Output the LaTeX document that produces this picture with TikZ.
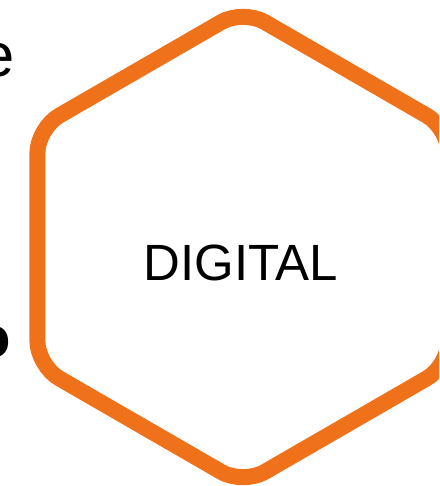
\documentclass[tikz,border=0pt]{standalone}
\usepackage{fontspec}
\setmainfont{Liberation Sans}
\usepackage{xcolor}
\usetikzlibrary{shapes.geometric}
\definecolor{hexorange}{RGB}{239,114,27}

\begin{document}
\begin{tikzpicture}[x=0.02cm, y=-0.02cm,
  hexbox/.style={draw=hexorange, line width=0.32cm, regular polygon, regular polygon sides=6,
    shape border rotate=30, minimum size=9.5cm, inner sep=0pt, rounded corners=0.5cm},
  word/.style={inner sep=0pt, font=\fontsize{29}{34}\selectfont}]
\clip (0,0) rectangle (439,486);

\node[hexbox] (hex) at (243,247) {};
\node[word] (digital) at (241,263) {DIGITAL};

% cut-off text on the left edge
\node[word, anchor=base east, font=\fontsize{35}{40}\selectfont] (sidee) at (15,77) {e};
\node[word, anchor=base east, font=\fontsize{33}{38}\selectfont\bfseries] (sideo) at (11,357) {o};

\end{tikzpicture}
\end{document}
